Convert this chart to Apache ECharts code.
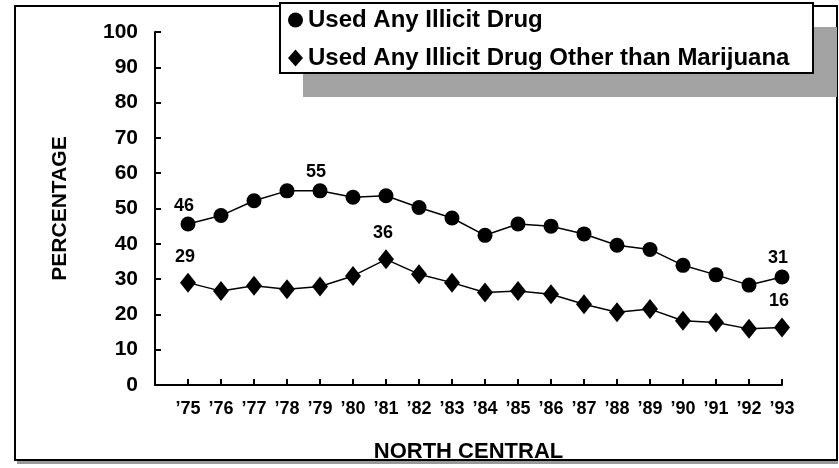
<!DOCTYPE html>
<html>
<head>
<meta charset="utf-8">
<script src="https://cdn.jsdelivr.net/npm/echarts@6/dist/echarts.min.js"></script>
<style>html,body{margin:0;padding:0;background:#fff}#c{width:839px;height:468px}</style>
</head>
<body>
<div id="c"></div>
<script>
const categories = ["\u201975","\u201976","\u201977","\u201978","\u201979","\u201980","\u201981","\u201982","\u201983","\u201984","\u201985","\u201986","\u201987","\u201988","\u201989","\u201990","\u201991","\u201992","\u201993"];
const anyDrug   = [45.6, 48.0, 52.2, 55.0, 55.0, 53.2, 53.6, 50.3, 47.3, 42.4, 45.6, 45.0, 42.8, 39.6, 38.4, 33.9, 31.2, 28.3, 30.6];
const otherDrug = [29.0, 26.6, 28.1, 27.1, 27.9, 30.9, 35.6, 31.4, 29.0, 26.2, 26.6, 25.7, 22.9, 20.6, 21.5, 18.2, 17.7, 15.9, 16.3];
const labeledAny = [0, 4, 18];
const labeledOther = [0, 6, 18];
const seriesNames = ["Used Any Illicit Drug", "Used Any Illicit Drug Other than Marijuana"];
const yTickMin = 0, yTickMax = 100, yTickStep = 10;

const FONT = "Liberation Sans";
const chart = echarts.init(document.getElementById('c'), null, {renderer: 'canvas'});

function build(vals, labeled) {
  return vals.map((v, i) => ({value: [i, v], label: {show: labeled.indexOf(i) >= 0}}));
}

chart.setOption({
  animation: false,
  backgroundColor: '#fff',
  grid: {left: 155, right: 57, top: 32, bottom: 80, containLabel: false},
  legend: {
    orient: 'vertical', left: 288, top: 8, padding: 0, itemGap: 14,
    itemWidth: 15, itemHeight: 17, selectedMode: false,
    textStyle: {fontFamily: FONT, fontWeight: 'bold', fontSize: 24, lineHeight: 24, color: '#000', padding: [0,0,0,0]},
    data: [{name: seriesNames[0], icon: 'circle'}, {name: seriesNames[1], icon: 'diamond'}]
  },
  xAxis: {
    type: 'value', min: -1, max: categories.length - 1, interval: 1,
    axisLine: {onZero: false, lineStyle: {color: '#000', width: 2}},
    axisTick: {inside: true, length: 6, lineStyle: {color: '#000', width: 2}},
    splitLine: {show: false},
    axisLabel: {
      formatter: v => (v >= 0 && v < categories.length) ? categories[v] : '',
      fontFamily: FONT, fontWeight: 'bold', fontSize: 18, color: '#000', margin: 15
    },
    name: 'NORTH CENTRAL', nameLocation: 'middle', nameGap: 56,
    nameTextStyle: {fontFamily: FONT, fontWeight: 'bold', fontSize: 22, color: '#000'}
  },
  yAxis: {
    type: 'value', min: yTickMin, max: yTickMax, interval: yTickStep,
    axisLine: {show: true, onZero: false, lineStyle: {color: '#000', width: 2}},
    axisTick: {show: true, inside: true, length: 6, lineStyle: {color: '#000', width: 2}},
    splitLine: {show: false},
    axisLabel: {fontFamily: FONT, fontWeight: 'bold', fontSize: 21, color: '#000', margin: 17},
    name: 'PERCENTAGE', nameLocation: 'middle', nameGap: 84, nameRotate: 90,
    nameTextStyle: {fontFamily: FONT, fontWeight: 'bold', fontSize: 21, color: '#000', padding: [0, 0, 0, 0]}
  },
  series: [
    {
      name: seriesNames[0], type: 'line', data: build(anyDrug, labeledAny),
      symbol: 'circle', symbolSize: 15, itemStyle: {color: '#000'},
      lineStyle: {color: '#000', width: 1.5},
      label: {position: 'top', distance: 2, offset: [-4, 0], formatter: p => Math.round(p.value[1]),
              fontFamily: FONT, fontWeight: 'bold', fontSize: 18, color: '#000'}
    },
    {
      name: seriesNames[1], type: 'line', data: build(otherDrug, labeledOther),
      symbol: 'diamond', symbolSize: [16, 20], itemStyle: {color: '#000'},
      lineStyle: {color: '#000', width: 1.5},
      label: {position: 'top', distance: 7, offset: [-3, 0], formatter: p => Math.round(p.value[1]),
              fontFamily: FONT, fontWeight: 'bold', fontSize: 18, color: '#000'}
    }
  ],
  graphic: [
    {type: 'rect', z: -10, shape: {x: 15, y: 6, width: 822, height: 454},
     style: {fill: 'none', stroke: '#000', lineWidth: 2}},
    {type: 'rect', z: -9, shape: {x: 17, y: 461, width: 821, height: 3},
     style: {fill: '#999', stroke: null}},
    {type: 'rect', z: -5, shape: {x: 303, y: 27, width: 534, height: 70},
     style: {fill: '#a3a3a3', stroke: null}},
    {type: 'rect', z: -4, shape: {x: 280, y: 3, width: 533, height: 70},
     style: {fill: '#fff', stroke: '#000', lineWidth: 2}}
  ]
});
</script>
</body>
</html>
